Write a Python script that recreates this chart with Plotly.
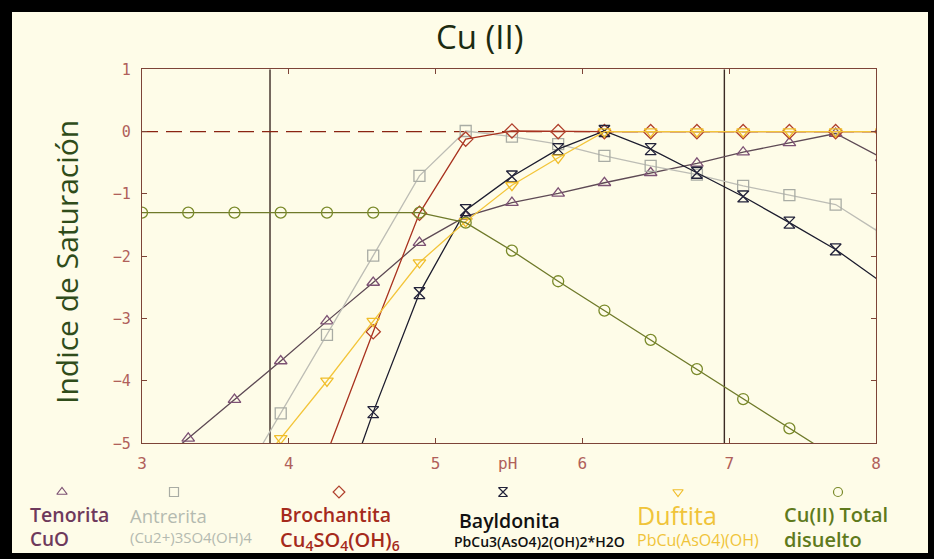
import plotly.graph_objects as go

W, H = 934, 559

# pH values of the calculated points
ph = [3.00, 3.315, 3.63, 3.945, 4.26, 4.575, 4.89, 5.205, 5.52, 5.835,
      6.15, 6.465, 6.78, 7.095, 7.41, 7.725, 8.04]

# saturation indices for each mineral / dissolved Cu
tenorita = [-5.54, -4.92, -4.30, -3.68, -3.04, -2.42, -1.78, -1.36, -1.14, -0.99,
            -0.82, -0.66, -0.51, -0.33, -0.18, -0.03, -0.42]
antrerita = [None, None, -5.78, -4.52, -3.26, -1.99, -0.71, 0.01, -0.08, -0.20,
             -0.39, -0.55, -0.69, -0.87, -1.02, -1.17, -1.64]
brochantita = [None, None, None, None, -5.16, -3.21, -1.31, -0.12, 0.01, 0.0,
               0.0, 0.0, 0.0, 0.0, 0.0, 0.0, 0.0]
bayldonita = [None, None, None, None, -6.60, -4.50, -2.59, -1.26, -0.72, -0.28,
              0.01, -0.28, -0.66, -1.04, -1.46, -1.89, -2.42]
duftita = [None, None, -5.84, -4.92, -4.00, -3.04, -2.10, -1.44, -0.86, -0.42,
           0.0, 0.0, 0.0, 0.0, 0.0, 0.0, 0.0]
cu_total = [-1.30, -1.30, -1.30, -1.30, -1.30, -1.30, -1.30, -1.46, -1.91, -2.40,
            -2.87, -3.34, -3.81, -4.29, -4.76, -5.23, -5.70]

x_ticks = [3, 4, 5, 6, 7, 8]
y_ticks = [-5, -4, -3, -2, -1, 0, 1]
ph_limits = [3.872, 6.967]

names = ["Tenorita", "Antrerita", "Brochantita", "Bayldonita", "Duftita", "Cu(II) Total"]
formulas = ["CuO", "(Cu2+)3SO4(OH)4", "Cu<sub>4</sub>SO<sub>4</sub>(OH)<sub>6</sub>",
            "PbCu3(AsO4)2(OH)2*H2O", "PbCu(AsO4)(OH)", "disuelto"]
values = [tenorita, antrerita, brochantita, bayldonita, duftita, cu_total]

line_colors = ["#5e4a55", "#bdbdb5", "#a8321f", "#1c1c2e", "#f3c53a", "#6f7a2a"]
marker_colors = ["#7d5274", "#a9aca4", "#b0402c", "#22223a", "#f0bd2a", "#7a8a2a"]
text_colors = ["#6e3a5c", "#b4bab0", "#a52a1c", "#111111", "#f0c43a", "#5f7a1c"]
symbols = ["triangle-up-open", "square-open", "diamond-open", "hourglass-open",
           "triangle-down-open", "circle-open"]

# legend layout (pixel positions in the page)
leg_marker_x = [62, 174, 339, 503, 678, 838]
leg_marker_y = 492
leg_name_x = [28, 128, 278, 457, 635, 782]
leg_name_y = [514, 515, 514, 520, 515, 514]
leg_name_size = [19.5, 18.5, 19.5, 19.5, 25, 20]
leg_name_weight = [600, 400, 600, 600, 400, 600]
leg_form_x = [28, 128, 278, 452, 635, 782]
leg_form_y = [539, 537, 540, 541, 540, 539]
leg_form_size = [19, 15, 20, 14, 16, 20]
leg_form_weight = [600, 400, 600, 600, 400, 600]

CREAM = "#fefce8"
AXIS = "#7d4438"
TICKC = "#b0605a"

fig = go.Figure()

# zero saturation reference
fig.add_trace(go.Scatter(x=[3, 8], y=[0, 0], mode="lines",
                         line=dict(color="#8a2412", width=1.3, dash="16px,8px"),
                         hoverinfo="skip", showlegend=False))

for i in range(len(names)):
    fig.add_trace(go.Scatter(
        x=ph, y=values[i], mode="lines+markers", name=names[i],
        line=dict(color=line_colors[i], width=1.3),
        marker=dict(symbol=symbols[i], size=11, color=marker_colors[i],
                    line=dict(width=1.3, color=marker_colors[i])),
        connectgaps=False, showlegend=False))

# legend markers drawn on a full-page overlay axis
for i in range(len(names)):
    fig.add_trace(go.Scatter(
        x=[leg_marker_x[i]], y=[leg_marker_y], xaxis="x2", yaxis="y2",
        mode="markers", cliponaxis=False, showlegend=False, hoverinfo="skip",
        marker=dict(symbol=symbols[i], size=9, color=marker_colors[i],
                    line=dict(width=1.2, color=marker_colors[i]))))

shapes = [
    # cream page inside the black frame
    dict(type="rect", xref="paper", yref="paper", x0=12 / W, x1=928 / W,
         y0=1 - 553 / H, y1=1 - 12 / H, fillcolor=CREAM, line_width=0, layer="below"),
]
for v in ph_limits:
    shapes.append(dict(type="line", xref="x", yref="y", x0=v, x1=v, y0=-5, y1=1,
                       line=dict(color="#3b2a24", width=1.4), layer="below"))

annotations = [
    dict(text="Cu (II)", x=480 / W, y=1 - 37 / H, xref="paper", yref="paper",
         showarrow=False, xanchor="center", yanchor="middle",
         font=dict(family="Open Sans", size=33, color="#1c2b10")),
    dict(text="Indice de Saturación", x=66 / W, y=1 - 262 / H, xref="paper", yref="paper",
         showarrow=False, textangle=-90, xanchor="center", yanchor="middle",
         font=dict(family="Open Sans", size=30, color="#2f4c1a")),
    dict(text="pH", x=507 / W, y=1 - 463 / H, xref="paper", yref="paper",
         showarrow=False, xanchor="center", yanchor="middle",
         font=dict(family="DejaVu Sans Mono", size=16, color=TICKC)),
]
for i in range(len(names)):
    annotations.append(dict(
        text=names[i], x=leg_name_x[i] / W, y=1 - leg_name_y[i] / H,
        xref="paper", yref="paper", showarrow=False, xanchor="left", yanchor="middle",
        font=dict(family="Open Sans", size=leg_name_size[i], color=text_colors[i],
                  weight=leg_name_weight[i])))
    annotations.append(dict(
        text=formulas[i], x=leg_form_x[i] / W, y=1 - leg_form_y[i] / H,
        xref="paper", yref="paper", showarrow=False, xanchor="left", yanchor="middle",
        font=dict(family="Open Sans", size=leg_form_size[i], color=text_colors[i],
                  weight=leg_form_weight[i])))

fig.update_layout(
    width=W, height=H, margin=dict(l=0, r=0, t=0, b=0, pad=0, autoexpand=False),
    paper_bgcolor="#000000", plot_bgcolor="rgba(0,0,0,0)",
    showlegend=False, shapes=shapes, annotations=annotations,
    xaxis=dict(domain=[142 / W, 876 / W], range=[3, 8], tickvals=x_ticks,
               showgrid=False, zeroline=False, showline=True, linecolor=AXIS,
               linewidth=1.3, mirror="ticks", ticks="inside", ticklen=5,
               tickcolor=AXIS, ticklabelstandoff=5, automargin=False,
               tickfont=dict(family="DejaVu Sans Mono", size=16, color=TICKC)),
    yaxis=dict(domain=[1 - 443.3 / H, 1 - 69.3 / H], range=[-5, 1], tickvals=y_ticks,
               showgrid=False, zeroline=False, showline=True, linecolor=AXIS,
               linewidth=1.3, mirror="ticks", ticks="inside", ticklen=5,
               tickcolor=AXIS, ticklabelstandoff=7, automargin=False,
               tickfont=dict(family="DejaVu Sans Mono", size=15, color=TICKC)),
    xaxis2=dict(domain=[0, 1], range=[0, W], visible=False, anchor="y2", automargin=False),
    yaxis2=dict(domain=[0, 1], range=[H, 0], visible=False, anchor="x2", automargin=False),
)

fig.write_html("out.html")
